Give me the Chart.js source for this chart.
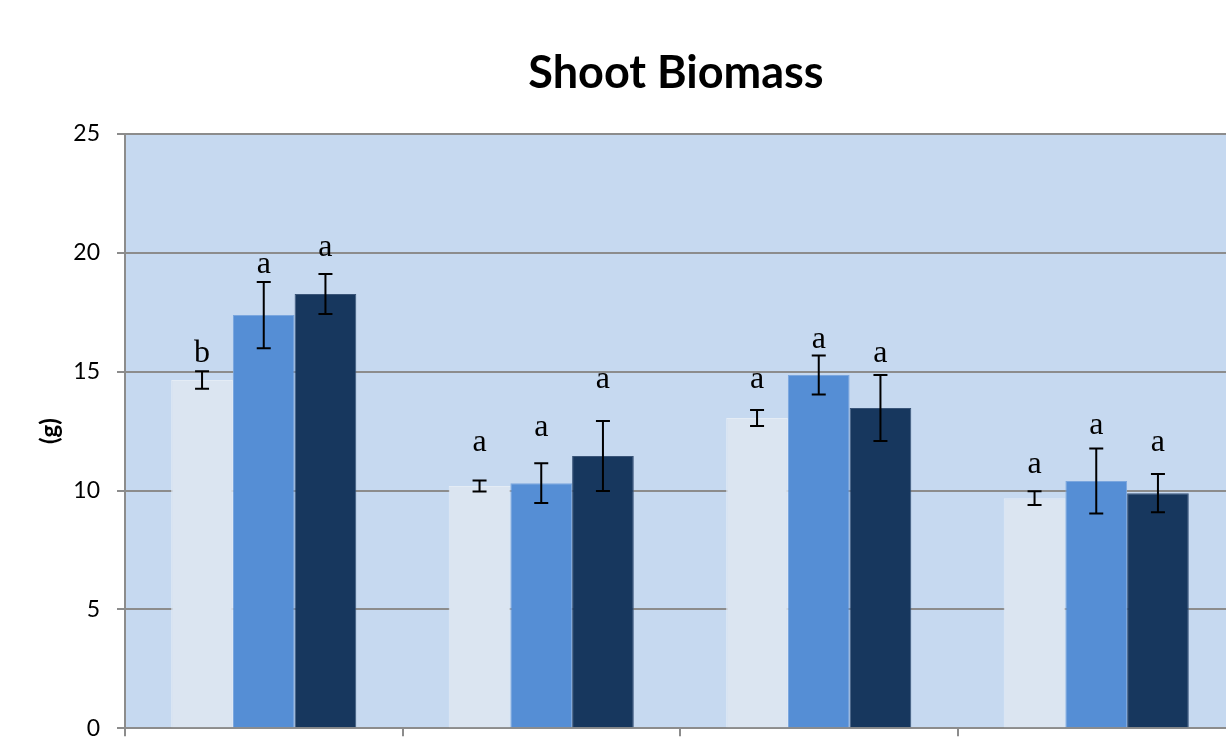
<!DOCTYPE html>
<html>
<head>
<meta charset="utf-8">
<script src="https://cdn.jsdelivr.net/npm/chart.js@4.4.0/dist/chart.umd.min.js"></script>
<style>
  html, body { margin: 0; padding: 0; background: #fff; overflow: hidden; }
  #wrap { width: 1352px; height: 759px; }
</style>
</head>
<body>
<div id="wrap"><canvas id="myChart" width="1352" height="759"></canvas></div>
<script>
// data
var categories = ["1", "2", "3", "4"];
var series1 = [14.65, 10.19, 13.05, 9.68];
var series2 = [17.38, 10.31, 14.86, 10.40];
var series3 = [18.27, 11.45, 13.47, 9.89];
var err1 = [0.37, 0.23, 0.34, 0.29];
var err2 = [1.39, 0.84, 0.82, 1.37];
var err3 = [0.84, 1.47, 1.39, 0.80];
var letters1 = ["b", "a", "a", "a"];
var letters2 = ["a", "a", "a", "a"];
var letters3 = ["a", "a", "a", "a"];
var lettersAt1 = [15.78, 12.0, 14.65, 11.07];
var lettersAt2 = [19.49, 12.63, 16.37, 12.75];
var lettersAt3 = [20.2, 14.65, 15.74, 12.0];
var yTicks = [0, 5, 10, 15, 20, 25];

var errs = [err1, err2, err3];
var letters = [letters1, letters2, letters3];
var lettersAt = [lettersAt1, lettersAt2, lettersAt3];

//plot area background
var bgPlugin = {
  id: "bg",
  beforeDraw: function(chart) {
    var a = chart.chartArea;
    var ctx = chart.ctx;
    ctx.save();
    ctx.fillStyle = "#C6D9F0";
    ctx.fillRect(a.left, a.top, a.right - a.left, a.bottom - a.top);
    ctx.restore();
  }
};

//error bars and letters
var errPlugin = {
  id: "errbars",
  afterDatasetsDraw: function(chart) {
    var ctx = chart.ctx;
    var y = chart.scales.y;
    ctx.save();
    for (var d = 0; d < chart.data.datasets.length; d++) {
      var meta = chart.getDatasetMeta(d);
      var vals = chart.data.datasets[d].data;
      for (var i = 0; i < meta.data.length; i++) {
        var x = meta.data[i].x;
        var top = y.getPixelForValue(vals[i] + errs[d][i]);
        var bot = y.getPixelForValue(vals[i] - errs[d][i]);
        ctx.strokeStyle = "#000";
        ctx.lineWidth = 2;
        ctx.beginPath();
        ctx.moveTo(x, top); ctx.lineTo(x, bot);
        ctx.moveTo(x - 7, top); ctx.lineTo(x + 7, top);
        ctx.moveTo(x - 7, bot); ctx.lineTo(x + 7, bot);
        ctx.stroke();
        ctx.fillStyle = "#000";
        ctx.font = "32px 'Liberation Serif'";
        ctx.textAlign = "center";
        ctx.textBaseline = "middle";
        ctx.fillText(letters[d][i], x, y.getPixelForValue(lettersAt[d][i]));
      }
    }
    ctx.restore();
  }
};

var ctx = document.getElementById("myChart").getContext("2d");
var chart = new Chart(ctx, {
  type: "bar",
  data: {
    labels: categories,
    datasets: [
      { data: series1, backgroundColor: "#DBE5F1", borderColor: "#E4ECF5", borderWidth: 1 },
      { data: series2, backgroundColor: "#558ED5", borderColor: "#7AA6DE", borderWidth: 1 },
      { data: series3, backgroundColor: "#17375E", borderColor: "#3A5579", borderWidth: 1 }
    ]
  },
  options: {
    responsive: false,
    animation: false,
    categoryPercentage: 0.667,
    barPercentage: 1,
    layout: { padding: 0 },
    plugins: {
      legend: { display: false },
      tooltip: { enabled: false },
      title: {
        display: true,
        text: "Shoot Biomass",
        color: "#000",
        font: { family: "Lato", size: 45, weight: "bold" },
        padding: { top: 46, bottom: 34 }
      }
    },
    scales: {
      x: {
        offset: true,
        ticks: { display: false },
        grid: { drawOnChartArea: false, color: "#8C8C8C", lineWidth: 2, tickLength: 8 },
        border: { color: "#8C8C8C", width: 2 },
        afterFit: function(axis) {
          axis.height = 24;
        }
      },
      y: {
        min: 0,
        max: 25,
        afterBuildTicks: function(axis) {
          axis.ticks = yTicks.map(function(v) { return { value: v }; });
        },
        afterFit: function(axis) {
          axis.width = 125;
        },
        ticks: { color: "#000", padding: 17, font: { family: "Lato", size: 23 } },
        grid: { color: "#8C8C8C", lineWidth: 2, tickLength: 8 },
        border: { color: "#8C8C8C", width: 2 },
        title: {
          display: true,
          text: "(g)",
          color: "#000",
          font: { family: "Lato", size: 24, weight: "bold" },
          padding: { top: 36, bottom: 0 }
        }
      },
      // empty right side (the original chart is cut off there)
      yRight: {
        position: "right",
        min: 0,
        max: 25,
        ticks: { display: false },
        grid: { display: false },
        border: { display: false },
        afterFit: function(axis) {
          axis.width = 117;
        }
      }
    }
  },
  plugins: [bgPlugin, errPlugin]
});
</script>
</body>
</html>
